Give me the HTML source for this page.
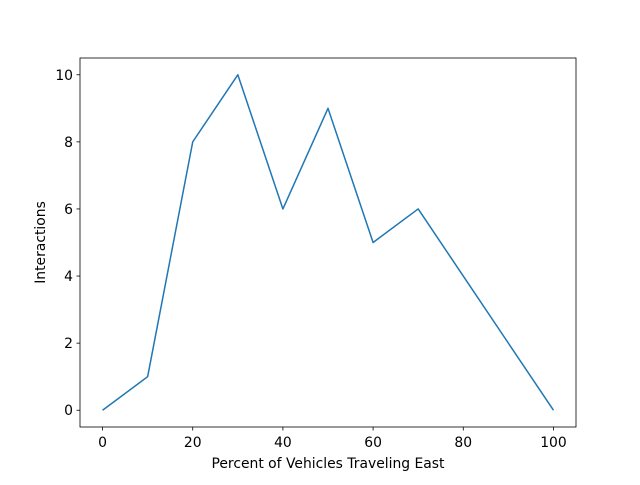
<!DOCTYPE html>
<html><head><meta charset="utf-8"><style>body{margin:0;background:#fff}svg text{font-family:"DejaVu Sans","Liberation Sans",sans-serif;font-size:13.9px;fill:#000}</style></head>
<body>
<svg id="c" width="640" height="480"></svg>
<script>
const xValues=[0,10,20,30,40,50,60,70,80,90,100];
const yValues=[0,1,8,10,6,9,5,6,4,2,0];
const xTicks=[0,20,40,60,80,100];
const yTicks=[0,2,4,6,8,10];
const L=80,R=576,T=58,B=427;
const sx=v=>L+(v+5)/110*(R-L);
const sy=v=>B-(v+0.5)/11*(B-T);
const svg=document.getElementById('c');
const NS='http://www.w3.org/2000/svg';
function mk(t,a,p){const e=document.createElementNS(NS,t);for(const k in a)e.setAttribute(k,a[k]);(p||svg).appendChild(e);return e;}
const pts=xValues.map((x,i)=>sx(x)+','+sy(yValues[i])).join(' ');
const line=mk('polyline',{points:pts,fill:'none',stroke:'#1f77b4','stroke-width':1.5,'stroke-linejoin':'round'});


const fr=mk('rect',{x:L,y:T,width:R-L,height:B-T,fill:'none',stroke:'#000','stroke-width':0.8});


xTicks.forEach(v=>{const x=sx(v);
const tk=mk('line',{x1:x,x2:x,y1:B,y2:B+3.5,stroke:'#000','stroke-width':0.8});


const t=mk('text',{x:x,y:B+20,'text-anchor':'middle'});t.textContent=v;

});
yTicks.forEach(v=>{const y=sy(v);
const tk=mk('line',{x1:L-3.5,x2:L,y1:y,y2:y,stroke:'#000','stroke-width':0.8});


const t=mk('text',{x:L-7,y:y+5,'text-anchor':'end'});t.textContent=v;

});
const xt=mk('text',{x:(L+R)/2,y:468,'text-anchor':'middle'});xt.textContent='Percent of Vehicles Traveling East';


const yt=mk('text',{x:0,y:0,'text-anchor':'middle',transform:'translate(45,'+((T+B)/2)+') rotate(-90)'});yt.textContent='Interactions';


</script>
</body></html>
